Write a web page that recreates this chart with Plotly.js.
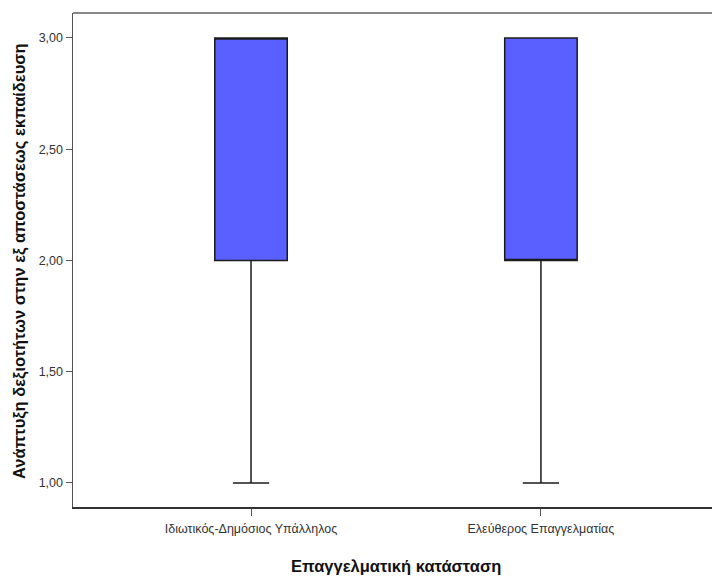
<!DOCTYPE html>
<html>
<head>
<meta charset="utf-8">
<script src="https://cdn.plot.ly/plotly-3.0.1.min.js"></script>
<style>html,body{margin:0;padding:0;background:#fff;}#chart{width:712px;height:579px;}</style>
</head>
<body>
<div id="chart"></div>
<script>
const categories = ["Ιδιωτικός-Δημόσιος Υπάλληλος", "Ελεύθερος Επαγγελματίας"];
const lowerWhisker = [1, 1];
const q1 = [2, 2];
const median = [3, 2];
const q3 = [3, 3];
const upperWhisker = [3, 3];
const yTickVals = [1, 1.5, 2, 2.5, 3];
const xTitle = 'Επαγγελματική κατάσταση';
const yTitle = 'Ανάπτυξη δεξιοτήτων στην εξ αποστάσεως εκπαίδευση';

const trace = {
  type: 'box',
  x: categories,
  lowerfence: lowerWhisker,
  q1: q1,
  median: median,
  q3: q3,
  upperfence: upperWhisker,
  width: 0.25,
  whiskerwidth: 0.5,
  fillcolor: 'rgb(90,95,255)',
  line: {color: '#1c1c1c', width: 1.5},
  boxpoints: false,
  hoverinfo: 'skip',
  showlegend: false
};

const FONT = 'Liberation Sans, Arial, sans-serif';

const layout = {
  width: 712, height: 579,
  margin: {l: 73, r: 0, t: 13, b: 72},
  paper_bgcolor: '#fff', plot_bgcolor: '#fff',
  separators: ',.',
  font: {family: FONT, color: '#333'},
  xaxis: {
    type: 'category',
    range: [-0.614, 1.59],
    showgrid: false, zeroline: false,
    showline: true, linecolor: '#333', linewidth: 1.5,
    ticks: 'outside', ticklen: 7, tickcolor: '#555', tickwidth: 1,
    ticklabelstandoff: 2,
    tickfont: {size: 12.5, color: '#333'}
  },
  yaxis: {
    range: [0.892, 3.112],
    tickvals: yTickVals,
    tickformat: '.2f',
    showgrid: false, zeroline: false,
    showline: true, linecolor: '#555', linewidth: 1.5,
    ticks: 'outside', ticklen: 6, tickcolor: '#555', tickwidth: 1,
    tickfont: {size: 12.5, color: '#333'}
  },
  annotations: [
    {text: xTitle, xref: 'paper', yref: 'paper', x: 0.5055, y: -0.119, xanchor: 'center', yanchor: 'middle', showarrow: false,
     font: {size: 16.5, color: '#111', family: FONT, weight: 'bold'}},
    {text: yTitle, xref: 'paper', yref: 'paper', x: -0.083, y: 0.498, xanchor: 'center', yanchor: 'middle', showarrow: false, textangle: -90,
     font: {size: 16.5, color: '#111', family: FONT, weight: 'bold'}}
  ],
  shapes: [{type: 'line', xref: 'paper', yref: 'paper', x0: 0, x1: 1, y0: 1, y1: 1, line: {color: '#888', width: 2}}]
};

Plotly.newPlot('chart', [trace], layout, {displayModeBar: false, staticPlot: true});
</script>
</body>
</html>
